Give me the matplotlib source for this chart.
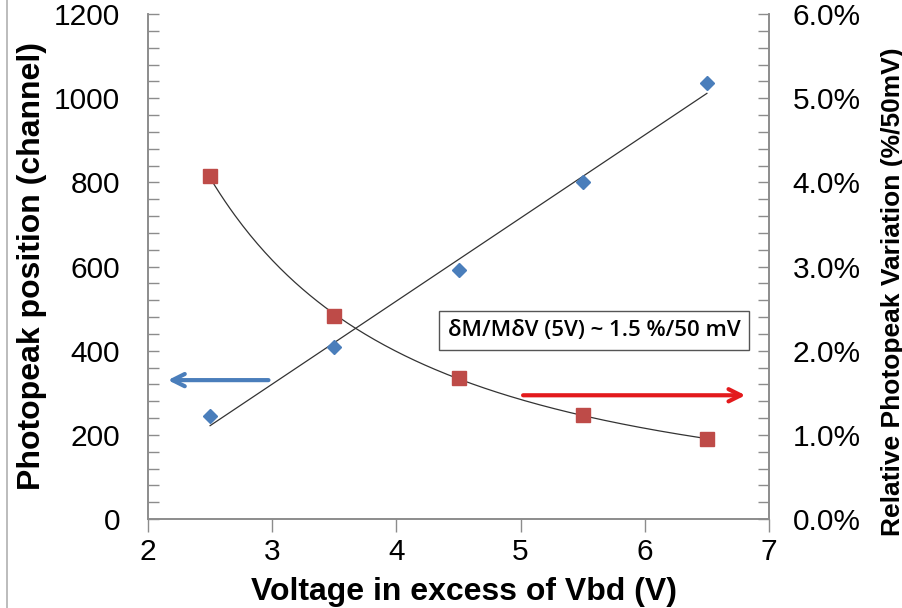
import numpy as np
import matplotlib
matplotlib.use('Agg')
import matplotlib.pyplot as plt
from matplotlib.ticker import MultipleLocator, PercentFormatter
from matplotlib.lines import Line2D

# Valeurs
voltage = [2.5, 3.5, 4.5, 5.5, 6.5]
photopeak = [245, 409, 592, 801, 1036]
variation = [4.07, 2.41, 1.67, 1.24, 0.95]  # en %

plt.rcParams['font.family'] = ['Liberation Sans', 'DejaVu Sans']

fig = plt.figure(figsize=(9.02, 6.08), dpi=100)
ax = fig.add_axes([148 / 902, 1 - 519 / 608, (769 - 148) / 902, (519 - 14) / 608])
ax2 = ax.twinx()

grey = '#8c8c8c'

# Points
ax.plot(voltage, photopeak, 'D', color='#4a7ebb', markersize=7, zorder=3)
ax2.plot(voltage, variation, 's', color='#be4b48', markersize=10, zorder=3)

# Courbes de tendance (lineaire et puissance)
xs = np.linspace(voltage[0], voltage[-1], 200)
a, b = np.polyfit(voltage, photopeak, 1)
ax.plot(xs, a * xs + b, color='#333333', lw=0.9, zorder=2)
p, q = np.polyfit(np.log(voltage), np.log(variation), 1)
ax2.plot(xs, np.exp(q) * xs ** p, color='#333333', lw=0.9, zorder=2)

ax.set_xlim(2, 7)
ax.set_ylim(0, 1200)
ax2.set_ylim(0, 6)

ax.xaxis.set_major_locator(MultipleLocator(1))
ax.yaxis.set_major_locator(MultipleLocator(200))
ax.yaxis.set_minor_locator(MultipleLocator(40))
ax2.yaxis.set_major_locator(MultipleLocator(1))
ax2.yaxis.set_minor_locator(MultipleLocator(0.2))
ax2.yaxis.set_major_formatter(PercentFormatter(decimals=1))

for a_ in (ax, ax2):
    a_.spines['top'].set_visible(False)
    for s in a_.spines.values():
        s.set_color(grey)
        s.set_linewidth(1.2)

ax.tick_params(axis='x', direction='out', length=9, width=1, color=grey,
               labelsize=21.5, pad=5)
ax.tick_params(axis='y', which='both', direction='in', length=8, width=1,
               color=grey, labelsize=21.5, pad=20)
ax2.tick_params(axis='y', which='both', direction='in', length=8, width=1,
                color=grey, labelsize=21.5, pad=17)

ax.set_xlabel('Voltage in excess of Vbd (V)', fontsize=23, fontweight='bold')
ax.xaxis.set_label_coords(0.509, -0.145)
ax.xaxis.label.set_va('center')
ax.set_ylabel('Photopeak position (channel)', fontsize=23, fontweight='bold')
ax.yaxis.set_label_coords(-0.187, 0.5)
ax.yaxis.label.set_va('center')
ax2.set_ylabel('Relative Photopeak Variation (%/50mV)', fontsize=19,
               fontweight='bold')
ax2.yaxis.set_label_coords(1.2, 0.45)
ax2.yaxis.label.set_va('center')

# Fleches
ax.annotate('', xy=(2.16, 330), xytext=(2.97, 330),
            arrowprops=dict(arrowstyle='->', color='#4a7ebb', lw=3,
                            mutation_scale=22, shrinkA=0, shrinkB=0))
ax2.annotate('', xy=(6.81, 1.47), xytext=(5.02, 1.47),
             arrowprops=dict(arrowstyle='->', color='#e31a1c', lw=3,
                             mutation_scale=22, shrinkA=0, shrinkB=0))

# Encadre
ax.text(5.59, 447, '\u03b4M/M\u03b4V (5V) ~ 1.5 %/50 mV', fontsize=16,
        family=['Open Sans', 'DejaVu Sans'], fontweight='semibold',
        ha='center', va='center', zorder=5,
        bbox=dict(boxstyle='square,pad=0.4', fc='white', ec='#555555', lw=1))

# Bordure gauche du cadre
fig.add_artist(Line2D([7 / 902, 7 / 902], [0, 1], color='#b0b0b0', lw=1.2))

fig.savefig('out.png', dpi=100)
